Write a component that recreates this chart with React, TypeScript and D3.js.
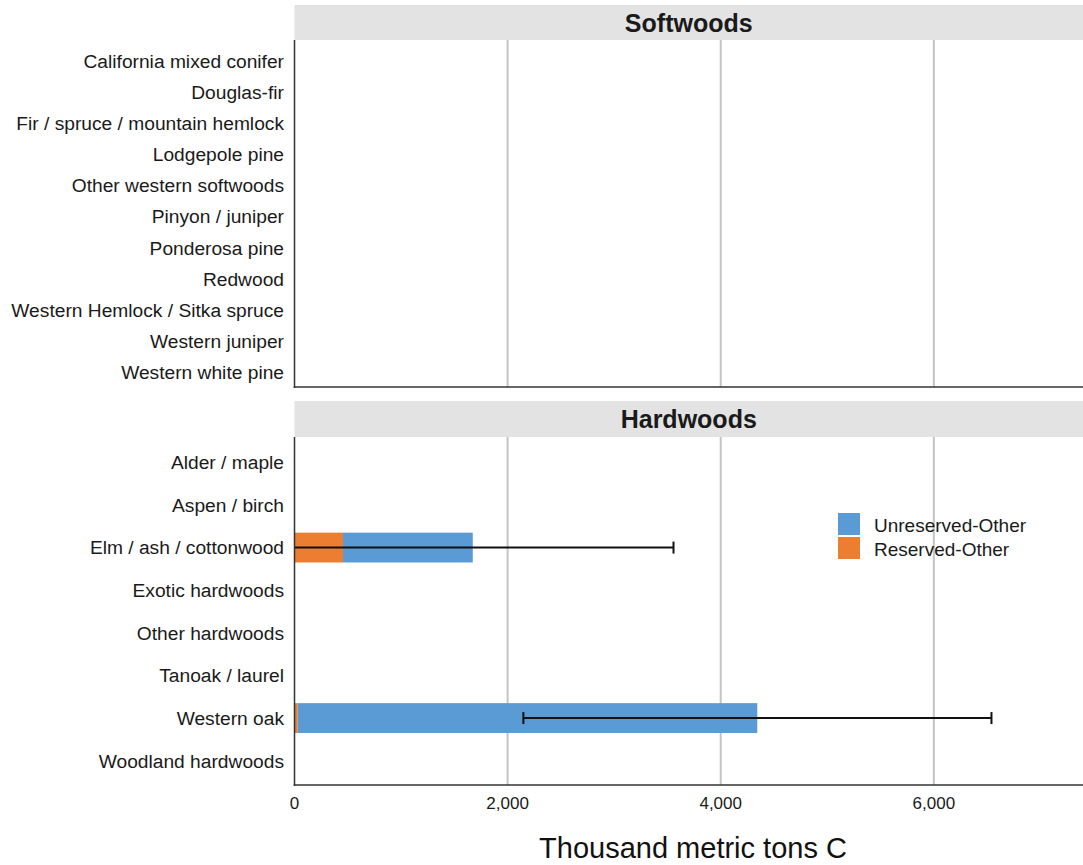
import React from "react";
import * as d3 from "d3";

const softwoods = [
  "California mixed conifer",
  "Douglas-fir",
  "Fir / spruce / mountain hemlock",
  "Lodgepole pine",
  "Other western softwoods",
  "Pinyon / juniper",
  "Ponderosa pine",
  "Redwood",
  "Western Hemlock / Sitka spruce",
  "Western juniper",
  "Western white pine",
];
const softReserved = [0, 0, 0, 0, 0, 0, 0, 0, 0, 0, 0];
const softUnreserved = [0, 0, 0, 0, 0, 0, 0, 0, 0, 0, 0];

const hardwoods = [
  "Alder / maple",
  "Aspen / birch",
  "Elm / ash / cottonwood",
  "Exotic hardwoods",
  "Other hardwoods",
  "Tanoak / laurel",
  "Western oak",
  "Woodland hardwoods",
];
const hardReserved = [0, 0, 455, 0, 0, 0, 30, 0];
const hardUnreserved = [0, 0, 1218, 0, 0, 0, 4313, 0];
const hardErrLow: (number | null)[] = [null, null, -210, null, null, null, 2148, null];
const hardErrHigh: (number | null)[] = [null, null, 3557, null, null, null, 6541, null];

const xTicks = [0, 2000, 4000, 6000];
const seriesNames = ["Unreserved-Other", "Reserved-Other"];
const seriesColors = ["#5b9bd5", "#ed7d31"];

const FONT = "'Liberation Sans', Arial, sans-serif";

export default function App() {
  const W = 1083, H = 865;
  const x0 = 294.5, x1 = 1083;
  const x = d3.scaleLinear().domain([0, 7400]).range([x0, x1]);
  const fmt = d3.format(",");

  const panels = [
    { title: "Softwoods", cats: softwoods, res: softReserved, unres: softUnreserved, lo: softwoods.map(() => null), hi: softwoods.map(() => null), stripTop: 5, stripBot: 40, bottom: 387, range: [45, 388] as [number, number] },
    { title: "Hardwoods", cats: hardwoods, res: hardReserved, unres: hardUnreserved, lo: hardErrLow, hi: hardErrHigh, stripTop: 401, stripBot: 437, bottom: 785, range: [441, 782] as [number, number] },
  ];

  return (
    <svg width={W} height={H} style={{ display: "block", position: "absolute", left: 0, top: 0 }} fontFamily={FONT}>
      <rect x={0} y={0} width={W} height={H} fill="#fff" />
      {panels.map((p) => {
        const y = d3.scaleBand<string>().domain(p.cats).range(p.range).paddingInner(0.3).paddingOuter(0.15);
        return (
          <g key={p.title}>
            <rect x={x0} y={p.stripTop} width={x1 - x0} height={p.stripBot - p.stripTop} fill="#e3e3e3" />
            <text x={(x0 + x1) / 2} y={(p.stripTop + p.stripBot) / 2} dy="0.36em" textAnchor="middle" fontSize={25} fontWeight="bold" fill="#1a1a1a">{p.title}</text>
            {xTicks.filter((t) => t > 0).map((t) => (
              <line key={t} x1={x(t)} x2={x(t)} y1={p.stripBot} y2={p.bottom} stroke="#c4c4c4" strokeWidth={2} />
            ))}
            {p.cats.map((c, i) => {
              const yy = y(c)!;
              const bh = y.bandwidth();
              const r = p.res[i], u = p.unres[i];
              const lo = p.lo[i], hi = p.hi[i];
              const cy = yy + bh / 2;
              return (
                <g key={c}>
                  {r > 0 && <rect x={x(0)} y={yy} width={x(r) - x(0)} height={bh} fill={seriesColors[1]} />}
                  {u > 0 && <rect x={x(r)} y={yy} width={x(r + u) - x(r)} height={bh} fill={seriesColors[0]} />}
                  {lo !== null && hi !== null && (
                    <g stroke="#111" strokeWidth={2}>
                      <line x1={x(Math.max(0, lo))} x2={x(hi)} y1={cy} y2={cy} />
                      {lo >= 0 && <line x1={x(lo)} x2={x(lo)} y1={cy - 6} y2={cy + 6} />}
                      <line x1={x(hi)} x2={x(hi)} y1={cy - 6} y2={cy + 6} />
                    </g>
                  )}
                  <text x={284} y={cy} dy="0.36em" textAnchor="end" fontSize={19.2} fill="#1a1a1a">{c}</text>
                </g>
              );
            })}
            <line x1={x0} x2={x0} y1={p.stripBot} y2={p.bottom + 1} stroke="#333" strokeWidth={1.5} />
            <line x1={x0 - 0.75} x2={x1} y1={p.bottom} y2={p.bottom} stroke="#333" strokeWidth={1.5} />
          </g>
        );
      })}
      {xTicks.map((t) => (
        <text key={t} x={x(t)} y={803} dy="0.36em" textAnchor="middle" fontSize={17} fill="#1a1a1a">{fmt(t)}</text>
      ))}
      <text x={693} y={848} dy="0.36em" textAnchor="middle" fontSize={29} fill="#111">Thousand metric tons C</text>
      {seriesNames.map((s, i) => (
        <g key={s}>
          <rect x={838} y={513 + i * 24} width={22} height={22} fill={seriesColors[i]} />
          <text x={874} y={525 + i * 24} dy="0.36em" fontSize={19} fill="#1a1a1a">{s}</text>
        </g>
      ))}
    </svg>
  );
}
